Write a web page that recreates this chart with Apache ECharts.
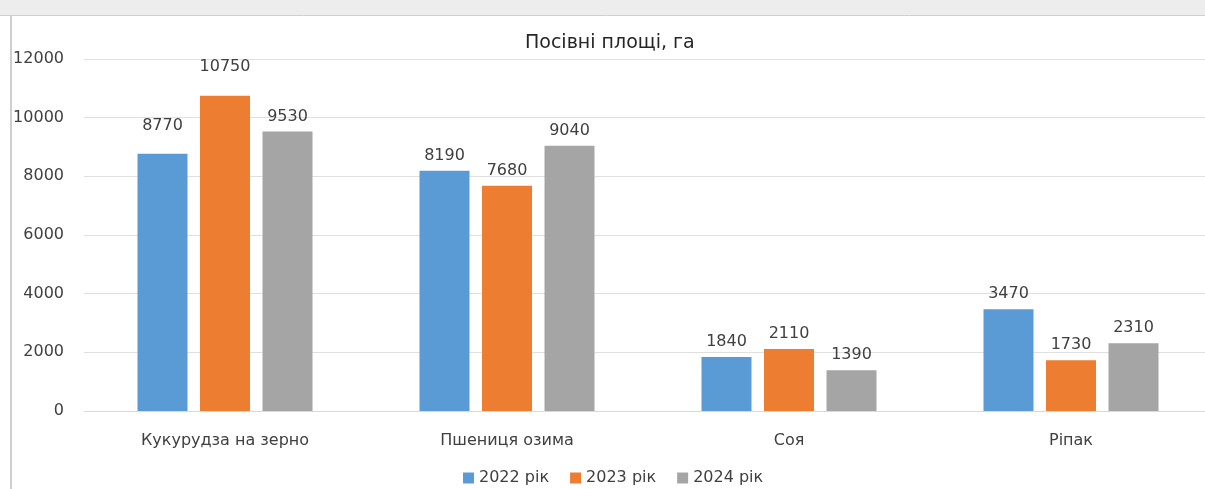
<!DOCTYPE html>
<html><head><meta charset="utf-8">
<script src="https://cdn.jsdelivr.net/npm/echarts@6/dist/echarts.min.js"></script>
<style>html,body{margin:0;padding:0;background:#fff;overflow:hidden}#c{width:1213px;height:489px}</style>
</head><body><div id="c"></div>
<script>
const categories = ['Кукурудза на зерно', 'Пшениця озима', 'Соя', 'Ріпак'];
const seriesNames = ['2022 рік', '2023 рік', '2024 рік'];
const values2022 = [8770, 8190, 1840, 3470];
const values2023 = [10750, 7680, 2110, 1730];
const values2024 = [9530, 9040, 1390, 2310];
const yTicks = [0, 2000, 4000, 6000, 8000, 10000, 12000];
const colors = ['#5B9BD5', '#ED7D31', '#A5A5A5'];
const font = 'DejaVu Sans';
const chart = echarts.init(document.getElementById('c'));
// manually moved data labels in the original (series index -> {category index: extra lift})
const labelLift = { 0: { 0: 13 }, 1: { 0: 14 } };
const mk = (si, data) => ({
  name: seriesNames[si], type: 'bar', barWidth: 50, barGap: '25%',
  data: data.map((v, i) => {
    const lift = (labelLift[si] || {})[i];
    return lift ? { value: v, label: { offset: [0, -lift] } } : v;
  }),
  itemStyle: { color: colors[si] },
  label: { show: true, position: 'top', distance: 7, color: '#404040', fontSize: 16, fontFamily: font }
});
chart.setOption({
  animation: false,
  backgroundColor: '#fff',
  title: { text: 'Посівні площі, га', left: 525, top: 34, padding: 0,
    textStyle: { fontFamily: font, fontSize: 19, fontWeight: 'normal', color: '#262626' } },
  legend: { top: 470, left: 463, padding: 0, itemWidth: 11, itemHeight: 11, itemGap: 21, icon: 'rect',
    textStyle: { fontFamily: font, fontSize: 16, color: '#404040' }, data: seriesNames },
  grid: { left: 84, right: 1, top: 59, bottom: 78, containLabel: false },
  xAxis: { type: 'category', data: categories,
    axisLine: { lineStyle: { color: '#d9d9d9' } }, axisTick: { show: false },
    axisLabel: { fontFamily: font, fontSize: 16, color: '#404040', margin: 22 } },
  yAxis: { type: 'value', min: yTicks[0], max: yTicks[yTicks.length - 1], interval: 2000,
    axisLine: { show: false }, axisTick: { show: false },
    splitLine: { lineStyle: { color: '#e0e0e0' } },
    axisLabel: { fontFamily: font, fontSize: 16, color: '#404040', margin: 20, formatter: v => String(v) } },
  series: [mk(0, values2022), mk(1, values2023), mk(2, values2024)],
  graphic: [
    { type: 'rect', shape: { x: 0, y: 0, width: 1213, height: 15 }, style: { fill: '#ededed' }, z: -1 },
    { type: 'line', shape: { x1: 0, y1: 15.5, x2: 1213, y2: 15.5 }, style: { stroke: '#d0d0d0', lineWidth: 1 } },
    { type: 'line', shape: { x1: 11, y1: 15, x2: 11, y2: 489 }, style: { stroke: '#cfcfcf', lineWidth: 2 } }
  ]
});
</script></body></html>
